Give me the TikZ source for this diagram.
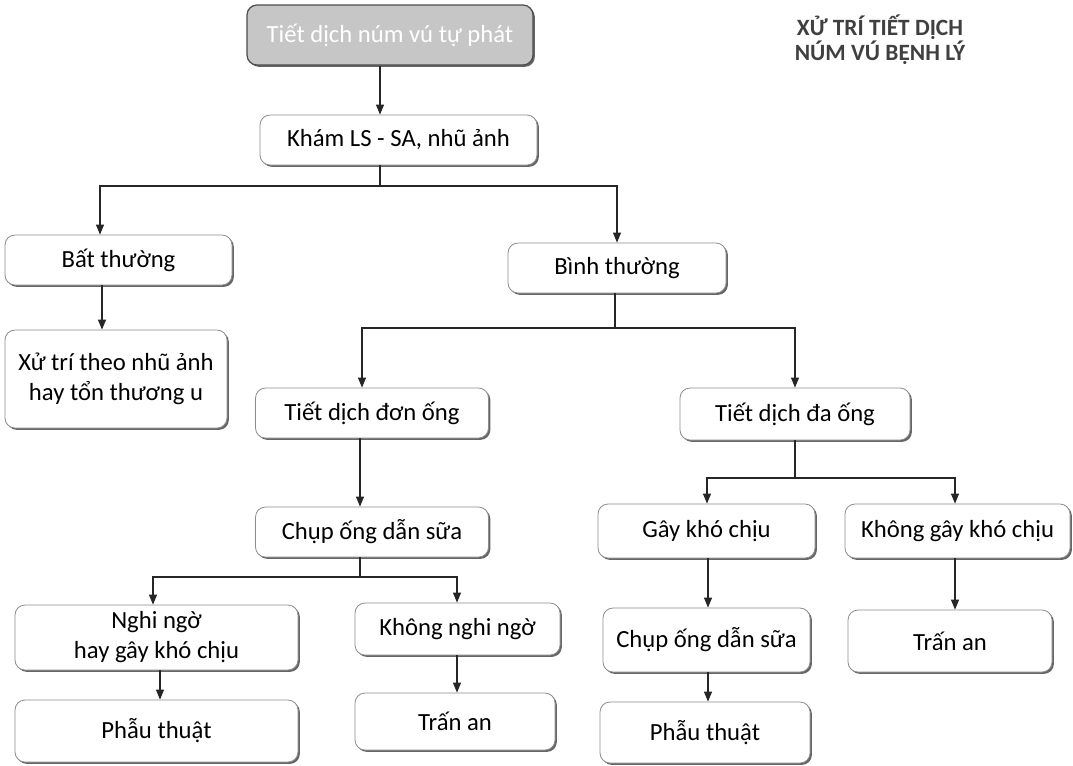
\documentclass[tikz,border=0pt]{standalone}
\usepackage{fontspec}
\setmainfont{Carlito}
\usetikzlibrary{shadows,arrows.meta}
\begin{document}
\begin{tikzpicture}[x=0.75pt,y=-0.75pt,
  box/.style={draw=black!45, line width=0.6pt, fill=white, rounded corners=7.5pt,
    align=center, inner sep=0pt, font=\fontsize{18.5}{22.5}\selectfont,
    drop shadow={shadow xshift=1.4pt, shadow yshift=-1.4pt, fill=black!60, opacity=1}},
  topbox/.style={box, draw=black!70, line width=0.9pt, fill=gray!45, text=white},
  sz/.style 2 args={minimum width=#1*0.75pt, minimum height=#2*0.75pt},
  ln/.style={draw=black!85, line width=0.8pt},
  arr/.style={ln, -{Triangle[length=7.5pt,width=6pt]}},
  title/.style={font=\fontsize{17.5}{19}\selectfont\bfseries, text=black!75, align=center}]
\useasboundingbox (0,0) rectangle (1073,765);

% boxes
\node[topbox, sz={286}{60}] (top) at (390,35) {Tiết dịch núm vú tự phát};
\node[box, sz={277}{50}] (kham) at (398.5,140) {Khám LS - SA, nhũ ảnh};
\node[box, sz={227}{50}] (bat) at (118.5,260) {Bất thường};
\node[box, sz={218}{50}] (binh) at (617,268) {Bình thường};
\node[box, sz={222}{98}] (xutri) at (116,379) {Xử trí theo nhũ ảnh\\hay tổn thương u};
\node[box, sz={233}{50}] (don) at (372,413) {Tiết dịch đơn ống};
\node[box, sz={230}{52}] (da) at (795,414) {Tiết dịch đa ống};
\node[box, sz={233}{50}] (chup1) at (372,532) {Chụp ống dẫn sữa};
\node[box, sz={283}{65}] (nghi) at (156.5,637.5) {Nghi ngờ\\hay gây khó chịu};
\node[box, sz={205}{52}] (knghi) at (457.5,629) {Không nghi ngờ};
\node[box, sz={283}{62}] (phau1) at (156.5,731) {Phẫu thuật};
\node[box, sz={200}{57}] (tran1) at (455,721.5) {Trấn an};
\node[box, sz={217}{54}] (gay) at (706.5,531) {Gây khó chịu};
\node[box, sz={225}{54}] (kgay) at (957.5,531) {Không gây khó chịu};
\node[box, sz={207}{64}] (chup2) at (706.5,640) {Chụp ống dẫn sữa};
\node[box, sz={210}{61}] (phau2) at (705,732.5) {Phẫu thuật};
\node[box, sz={204}{62}] (tran2) at (950,641) {Trấn an};

\node[title] (ttl) at (880,40) {XỬ TRÍ TIẾT DỊCH\\NÚM VÚ BỆNH LÝ};

% x levels
\coordinate (x100) at (100,0);
\coordinate (x102) at (102,0);
\coordinate (x153) at (153,0);
\coordinate (x160) at (160,0);
\coordinate (x360) at (360,0);
\coordinate (x362) at (362,0);
\coordinate (x380) at (380,0);
\coordinate (x457) at (457,0);
\coordinate (x615) at (615,0);
\coordinate (x617) at (617,0);
\coordinate (x707) at (707,0);
\coordinate (x708) at (708,0);
\coordinate (x795) at (795,0);
\coordinate (x955) at (955,0);

% junctions
\coordinate (j1) at (380,186);
\coordinate (j2) at (615,328);
\coordinate (j3) at (360,577);
\coordinate (j4) at (795,478);

% connectors
\draw[arr] (top.south -| x380) -- (kham.north -| x380);
\draw[ln] (kham.south -| x380) -- (j1);
\draw[arr] (j1) -| (bat.north -| x100);
\draw[arr] (j1) -| (binh.north -| x617);
\draw[arr] (bat.south -| x102) -- (xutri.north -| x102);
\draw[ln] (binh.south -| x615) -- (j2);
\draw[arr] (j2) -| (don.north -| x362);
\draw[arr] (j2) -| (da.north -| x795);
\draw[arr] (don.south -| x360) -- (chup1.north -| x360);
\draw[ln] (chup1.south -| x360) -- (j3);
\draw[arr] (j3) -| (nghi.north -| x153);
\draw[arr] (j3) -| (knghi.north -| x457);
\draw[arr] (nghi.south -| x160) -- (phau1.north -| x160);
\draw[arr] (knghi.south -| x457) -- (tran1.north -| x457);
\draw[ln] (da.south -| x795) -- (j4);
\draw[arr] (j4) -| (gay.north -| x707);
\draw[arr] (j4) -| (kgay.north -| x955);
\draw[arr] (gay.south -| x708) -- (chup2.north -| x708);
\draw[arr] (chup2.south -| x708) -- (phau2.north -| x708);
\draw[arr] (kgay.south -| x955) -- (tran2.north -| x955);
\end{tikzpicture}
\end{document}
